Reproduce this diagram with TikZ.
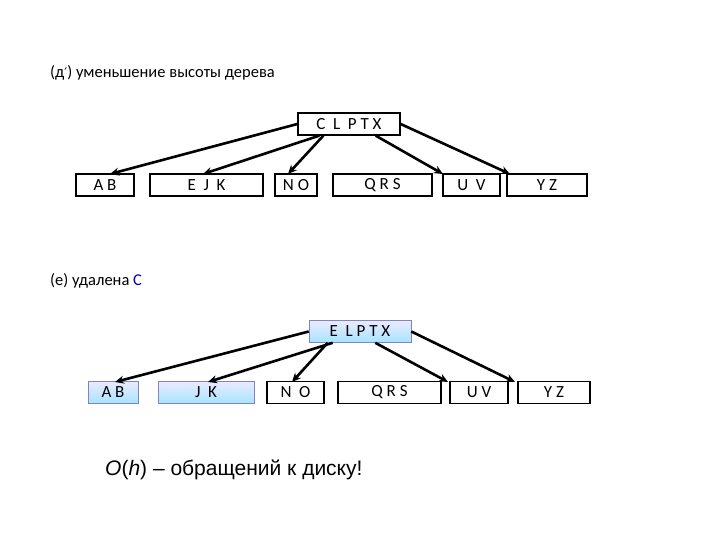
\documentclass[tikz,border=0pt]{standalone}
\usepackage{fontspec}
\setmainfont{Carlito}
\newfontfamily\arialf{Liberation Sans}
\newfontfamily\djv{DejaVu Sans}
\usetikzlibrary{arrows.meta}
\begin{document}
\begin{tikzpicture}[x=1pt,y=-1pt,
  bx/.style={draw=black,line width=1.3pt,minimum height=22pt,inner sep=0pt,font=\fontsize{17}{17}\selectfont},
  hl/.style={bx,draw=blue!40!gray!70,top color=blue!8,bottom color=blue!30!cyan!35,line width=0.6pt},
  ar/.style={line width=2.6pt,-{Stealth[length=9pt,width=8pt]}},
  lb/.style={anchor=west,inner sep=0pt,font=\fontsize{16.5}{18}\selectfont}]
\useasboundingbox (0,0) rectangle (720,540);
\node[lb] (t1) at (50,73) {(д{\djv\fontsize{13}{16}\selectfont′}) уменьшение высоты дерева};
% top tree
\node[bx,minimum width=102pt] (r1) at (349,124) {C\ \ L\ \ P\ T\ X};
\node[bx,minimum width=58pt] (a1) at (105,185) {A B};
\node[bx,minimum width=113pt] (b1) at (206.5,185) {E\ \ J\ \ K};
\node[bx,minimum width=42pt] (c1) at (296,185) {N O};
\node[bx,minimum width=99pt] (d1) at (382.5,185) {Q R S};
\node[bx,minimum width=57pt] (e1) at (471.5,185) {U\ \ V};
\node[bx,minimum width=80pt] (f1) at (547,185) {Y Z};
\draw[ar] (r1.west) -- (110,174);
\draw[ar] (r1.south west)++(22,0) -- (203,174);
\draw[ar] (r1.south west)++(26,0) -- (288,174);
\draw[ar] (r1.south east)++(-25,0) -- (443,174);
\draw[ar] (r1.east) -- (510,174);
% second
\node[lb] (t2) at (50,281) {(е) удалена \textcolor{blue!70!black}{C}};
\node[hl,minimum width=102pt] (r2) at (360,331.5) {E\ \ L\ P\ T\ X};
\node[hl,minimum width=50pt] (a2) at (113,392.5) {A B};
\node[hl,minimum width=96pt] (b2) at (206,392.5) {J\ \ K};
\node[bx,minimum width=57pt] (c2) at (295.5,392.5) {N\ \ O};
\node[bx,minimum width=103pt] (d2) at (389.5,392.5) {Q R S};
\node[bx,minimum width=58pt] (e2) at (479,392.5) {U V};
\node[bx,minimum width=72pt] (f2) at (554,392.5) {Y Z};
\draw[ar] (r2.west) -- (115,382);
\draw[ar] (r2.south west)++(24,0) -- (208,382);
\draw[ar] (r2.south west)++(19,0) -- (292,382);
\draw[ar] (r2.south east)++(-36,0) -- (448,382);
\draw[ar] (r2.east) -- (515,382);
\node[anchor=west,inner sep=0pt,font=\arialf\fontsize{21}{24}\selectfont] (t3) at (105,470) {\textit{O}(\textit{h}) – обращений к диску!};
\end{tikzpicture}
\end{document}
